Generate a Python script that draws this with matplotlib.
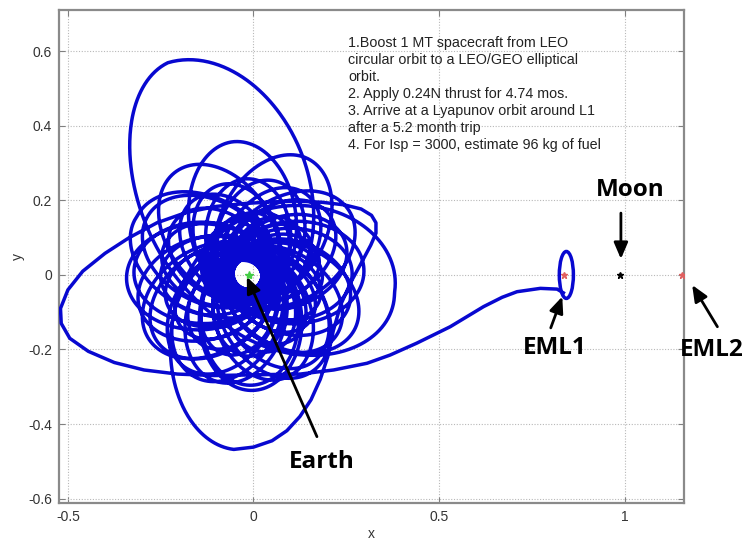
import numpy as np
import matplotlib.pyplot as plt
from matplotlib.patches import Ellipse

plt.rcParams['font.family'] = ['Liberation Sans', 'DejaVu Sans']

# Earth-Moon rotating frame, nondimensional units
mu = 0.01215
earth_x, earth_y = -mu, 0.0
moon_x, moon_y = 1 - mu, 0.0
l1_x, l2_x = 0.8369, 1.1557

# spiral loops: apogee direction (deg), apogee and perigee distance from Earth
loop_ang = [230, 219, 208, 196, 184, 171, 158, 144, 130, 115, 100, 84, 68, 51,
            33, 15, 358, 340, 323, 305, 288, 270, 252, 235, 217, 199, 181,
            163, 145, 127, 109, 91, 73, 55, 37, 19, 1, 343, 325, 307, 289,
            271, 253, 235, 216, 197, 178,
            150, 125, 97, 63, 33, 3, 333, 303, 272, 242, 212, 182, 152,
            111, 353, 265]
loop_ra = [0.100, 0.105, 0.110, 0.116, 0.122, 0.128, 0.134, 0.140, 0.147,
           0.154, 0.161, 0.168, 0.175, 0.183,
           0.190, 0.194, 0.198, 0.202, 0.206, 0.210, 0.214, 0.218, 0.222,
           0.226, 0.230, 0.234, 0.238, 0.242, 0.246, 0.250, 0.254, 0.258,
           0.262, 0.266, 0.270, 0.274, 0.278, 0.282, 0.286, 0.290, 0.293,
           0.296, 0.299, 0.302, 0.305, 0.308, 0.310,
           0.315, 0.340, 0.360, 0.350, 0.320, 0.310, 0.320, 0.310, 0.310,
           0.310, 0.320, 0.330, 0.340,
           0.610, 0.395, 0.470]
loop_rp = [0.033, 0.033, 0.034, 0.034, 0.035, 0.035, 0.036, 0.036, 0.037,
           0.037, 0.038, 0.039, 0.039, 0.040,
           0.041, 0.042, 0.043, 0.044, 0.044, 0.045, 0.046, 0.047, 0.048,
           0.048, 0.049, 0.050, 0.051, 0.052, 0.052, 0.053, 0.054, 0.055,
           0.056, 0.056, 0.057, 0.058, 0.059, 0.060, 0.060, 0.061, 0.062,
           0.063, 0.064, 0.064, 0.065, 0.066, 0.066,
           0.066, 0.066, 0.067, 0.068, 0.068, 0.069, 0.069, 0.070, 0.070,
           0.070, 0.070, 0.070, 0.070,
           0.140, 0.150, 0.120]

# last revolution and escape leg out to EML1
tail_x = [0.000, 0.050, 0.090, 0.125, 0.155, 0.180, 0.200, 0.215, 0.235,
          0.262, 0.292, 0.316, 0.330, 0.330, 0.318, 0.290, 0.245, 0.185,
          0.120, 0.050, -0.020, -0.100, -0.180, -0.260, -0.335, -0.400,
          -0.460, -0.500, -0.520, -0.518, -0.495, -0.445, -0.375, -0.295,
          -0.205, -0.105, 0.000, 0.060, 0.126, 0.216, 0.306, 0.368, 0.440,
          0.530, 0.620, 0.670, 0.710, 0.773, 0.818, 0.835]
tail_y = [-0.462, -0.445, -0.418, -0.380, -0.335, -0.280, -0.220, -0.150,
          -0.080, -0.020, 0.035, 0.080, 0.112, 0.140, 0.160, 0.177, 0.188,
          0.195, 0.198, 0.196, 0.192, 0.184, 0.168, 0.140, 0.100, 0.058,
          0.010, -0.040, -0.090, -0.130, -0.170, -0.205, -0.235, -0.255,
          -0.266, -0.270, -0.268, -0.267, -0.266, -0.255, -0.237, -0.215,
          -0.183, -0.139, -0.085, -0.060, -0.045, -0.036, -0.038, -0.048]

# Lyapunov orbit around L1
lyap_cx, lyap_cy = 0.843, 0.0
lyap_w, lyap_h = 0.038, 0.126

notes = ("1.Boost 1 MT spacecraft from LEO\n"
         "circular orbit to a LEO/GEO elliptical\n"
         "orbit.\n"
         "2. Apply 0.24N thrust for 4.74 mos.\n"
         "3. Arrive at a Lyapunov orbit around L1\n"
         "after a 5.2 month trip\n"
         "4. For Isp = 3000, estimate 96 kg of fuel")


def spiral(ang, ra, rp, n=500):
    # each revolution runs apogee -> perigee -> next apogee,
    # apse line regressing clockwise in the rotating frame
    xs, ys = [], []
    s = np.linspace(0, 1, n, endpoint=False)
    for k in range(len(ang) - 1):
        step = (ang[k + 1] - ang[k]) % 360 - 360
        phi = np.radians(ang[k] + s * (360 + step))
        w = np.radians(ang[k] + s * step) + np.pi
        a_r = ra[k] + s * (ra[k + 1] - ra[k])
        p_r = rp[k] + s * (rp[k + 1] - rp[k])
        e = (a_r - p_r) / (a_r + p_r)
        p = 2 * a_r * p_r / (a_r + p_r)
        r = p / (1 + e * np.cos(phi - w))
        xs.append(earth_x + r * np.cos(phi))
        ys.append(earth_y + r * np.sin(phi))
    t = np.radians(ang[-1])
    xs.append([earth_x + ra[-1] * np.cos(t)])
    ys.append([earth_y + ra[-1] * np.sin(t)])
    return np.concatenate(xs), np.concatenate(ys)


sx, sy = spiral(loop_ang, loop_ra, loop_rp)
px = np.concatenate([sx, tail_x])
py = np.concatenate([sy, tail_y])

fig = plt.figure(figsize=(7.47, 5.42), dpi=100)
ax = fig.add_axes([59 / 747, 39 / 542, 625 / 747, 493 / 542])

blue = '#0808d0'
ax.plot(px, py, color=blue, lw=2.5, solid_joinstyle='round', zorder=3)
ax.add_patch(Ellipse((lyap_cx, lyap_cy), lyap_w, lyap_h, fill=False,
                     edgecolor=blue, lw=2.5, zorder=3))

ax.plot(earth_x, earth_y, '*', color='#44cc44', ms=6, zorder=4)
ax.plot(moon_x, moon_y, '*', color='black', ms=5, zorder=4)
ax.plot([l1_x, l2_x], [0, 0], '*', color='#e06060', ms=5, ls='none', zorder=4)

ax.set_xlim(-0.524, 1.16)
ax.set_ylim(-0.612, 0.711)
ax.set_xticks([-0.5, 0, 0.5, 1])
ax.set_xticklabels(['-0.5', '0', '0.5', '1'])
ax.set_yticks([-0.6, -0.4, -0.2, 0, 0.2, 0.4, 0.6])
ax.set_yticklabels(['-0.6', '-0.4', '-0.2', '0', '0.2', '0.4', '0.6'])
ax.grid(True, color='#b8b8b8', lw=0.8, ls=(0, (1, 1.5)))
ax.tick_params(direction='in', top=True, right=True, length=4, pad=5,
               color='#808080', labelcolor='#333333', labelsize=10)
for sp in ax.spines.values():
    sp.set_color('#8a8a8a')
    sp.set_linewidth(1.6)
ax.set_xlabel('x', fontsize=10, color='#333333', labelpad=2)
ax.set_ylabel('y', fontsize=10, color='#333333', labelpad=2)

ax.text(0.255, 0.642, notes, fontsize=10.3, color='#222222',
        va='top', ha='left', linespacing=1.28)

lab = dict(fontsize=17.5, fontweight='bold', family='Open Sans',
           ha='center', va='center', color='black')
arr = dict(arrowstyle='-|>,head_length=0.7,head_width=0.3', lw=2.0,
           color='black', shrinkA=0, shrinkB=0, mutation_scale=14)

ax.text(1.016, 0.228, 'Moon', **lab)
ax.annotate('', xy=(0.990, 0.043), xytext=(0.990, 0.166), arrowprops=arr)
ax.text(0.813, -0.196, 'EML1', **lab)
ax.annotate('', xy=(0.832, -0.058), xytext=(0.801, -0.142), arrowprops=arr)
ax.text(1.236, -0.201, 'EML2', clip_on=False, **lab)
ax.annotate('', xy=(1.182, -0.027), xytext=(1.250, -0.139),
            arrowprops=arr, annotation_clip=False)
ax.text(0.185, -0.502, 'Earth', **lab)
ax.annotate('', xy=(-0.018, -0.005), xytext=(0.171, -0.434), arrowprops=arr)

fig.savefig('out.png', dpi=100)
